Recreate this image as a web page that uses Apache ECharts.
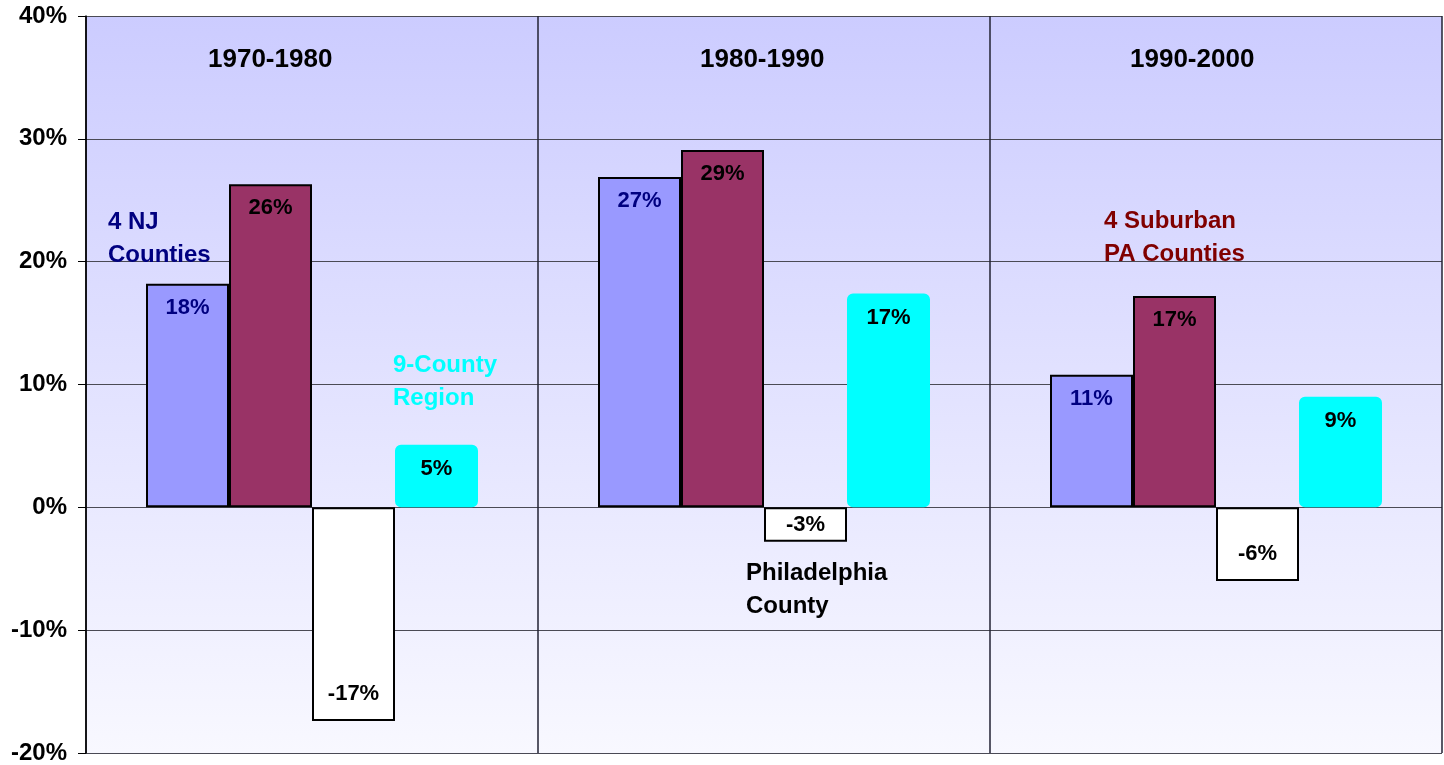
<!DOCTYPE html>
<html>
<head>
<meta charset="utf-8">
<script src="https://cdn.jsdelivr.net/npm/echarts@6/dist/echarts.min.js"></script>
<style>html,body{margin:0;padding:0;background:#fff;}#c{width:1444px;height:765px;}</style>
</head>
<body>
<div id="c"></div>
<script>
var categories = ['1970-1980', '1980-1990', '1990-2000'];
var njCounties = [18.2, 26.9, 10.8];
var paCounties = [26.3, 29.1, 17.2];
var philadelphia = [-17.4, -2.8, -6.0];
var region = [5.1, 17.4, 9.0];
var yTicks = { min: -20, max: 40, interval: 10 };

var FONT = '"Liberation Sans", Arial, sans-serif';
function items(arr) {
  return arr.map(function (v) {
    var pos = v >= 0 ? 'insideTop' : (v > -5 ? 'inside' : 'insideBottom');
    return { value: v, label: { position: pos, distance: v >= 0 ? 13 : 16 } };
  });
}
function lbl(color) {
  return { show: true, color: color, fontFamily: FONT, fontWeight: 'bold', fontSize: 22,
    formatter: function (p) { return Math.round(p.value) + '%'; } };
}
var chart = echarts.init(document.getElementById('c'));
var txt = function (x, y, text, color, size) {
  return { type: 'text', left: x, top: y, z: 100,
    style: { text: text, fill: color, font: 'bold ' + (size || 24) + 'px ' + FONT, lineHeight: 33 } };
};
chart.setOption({
  animation: false,
  grid: { left: 86, right: 2, top: 16, bottom: 12, show: true, borderWidth: 0,
    backgroundColor: { type: 'linear', x: 0, y: 0, x2: 0, y2: 1,
      colorStops: [{ offset: 0, color: '#ccccff' }, { offset: 1, color: '#f8f8ff' }] } },
  xAxis: { type: 'category', data: categories, axisLine: { show: false }, axisTick: { show: false },
    axisLabel: { show: false },
    splitLine: { show: true, lineStyle: { color: '#222233', width: 1.5 } } },
  yAxis: { type: 'value', min: yTicks.min, max: yTicks.max, interval: yTicks.interval,
    axisLine: { show: true, lineStyle: { color: '#000', width: 1.5 } },
    axisTick: { show: true, length: 8, lineStyle: { color: '#000' } },
    axisLabel: { margin: 19, color: '#000', fontFamily: FONT, fontWeight: 'bold', fontSize: 24,
      formatter: function (v) { return v + '%'; } },
    splitLine: { show: true, lineStyle: { color: '#4a4a55', width: 1.2 } } },
  series: [
    { name: '4 NJ Counties', type: 'bar', data: items(njCounties), barWidth: 83, barGap: '0%',
      itemStyle: { color: '#9999ff', borderColor: '#000', borderWidth: 2 }, label: lbl('#000080') },
    { name: '4 Suburban PA Counties', type: 'bar', data: items(paCounties), barWidth: 83, barGap: '0%',
      itemStyle: { color: '#993366', borderColor: '#000', borderWidth: 2 }, label: lbl('#000') },
    { name: 'Philadelphia County', type: 'bar', data: items(philadelphia), barWidth: 83, barGap: '0%',
      itemStyle: { color: '#ffffff', borderColor: '#000', borderWidth: 2 }, label: lbl('#000') },
    { name: '9-County Region', type: 'bar', data: items(region), barWidth: 83, barGap: '0%',
      itemStyle: { color: '#00ffff', borderColor: '#00ffff', borderWidth: 4, borderRadius: 4 }, label: lbl('#000') }
  ],
  graphic: [
    txt(208, 43, '1970-1980', '#000', 26),
    txt(700, 43, '1980-1990', '#000', 26),
    txt(1130, 43, '1990-2000', '#000', 26),
    txt(108, 206, '4 NJ\nCounties', '#000080'),
    txt(393, 349, '9-County\nRegion', '#00ffff'),
    txt(746, 557, 'Philadelphia\nCounty', '#000'),
    txt(1104, 205, '4 Suburban\nPA Counties', '#800000')
  ]
});
</script>
</body>
</html>
